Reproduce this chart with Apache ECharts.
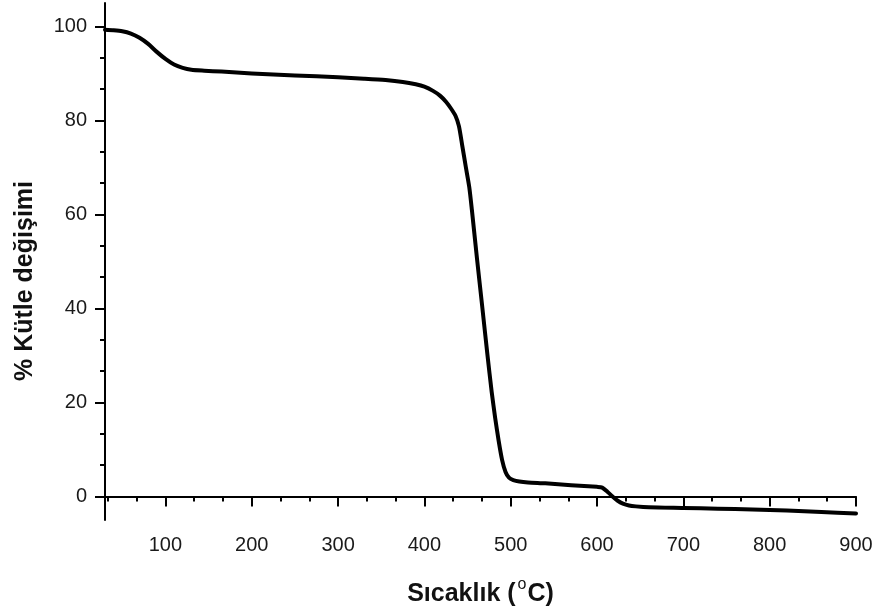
<!DOCTYPE html>
<html>
<head>
<meta charset="utf-8">
<script src="https://cdn.jsdelivr.net/npm/echarts@6/dist/echarts.min.js"></script>
<style>
html,body{margin:0;padding:0;background:#fff;}
#chart{width:879px;height:612px;}
</style>
</head>
<body>
<div id="chart"></div>
<script>
// Temperature (°C)
var temps = [30, 40, 50, 60, 70, 80, 90, 100, 110, 120, 130, 145, 165, 200, 250, 300, 330, 355, 375, 390, 400, 410, 418, 425, 431, 436, 440, 444, 448, 452, 455, 461, 467, 473, 478, 482, 486, 490, 494, 498, 503, 510, 520, 540, 570, 600, 606, 612, 618, 624, 630, 637, 645, 660, 700, 740, 780, 820, 860, 900];
// Mass change (%)
var mass = [99.3, 99.2, 99.0, 98.5, 97.6, 96.3, 94.6, 93.1, 91.9, 91.2, 90.8, 90.6, 90.4, 90.0, 89.6, 89.2, 88.9, 88.6, 88.2, 87.7, 87.2, 86.3, 85.3, 84.0, 82.5, 81.0, 78.8, 74.5, 70.1, 65.8, 61.0, 50.5, 40.4, 30.2, 22.2, 16.7, 11.9, 7.8, 5.2, 4.0, 3.5, 3.2, 3.0, 2.8, 2.4, 2.05, 1.9, 1.0, 0.0, -0.9, -1.5, -1.9, -2.1, -2.3, -2.45, -2.6, -2.75, -3.0, -3.3, -3.6];

var xTicks = [100, 200, 300, 400, 500, 600, 700, 800, 900];
var yTicks = [0, 20, 40, 60, 80, 100];
var yTitle = '% Kütle değişimi';

var xMinor = [];
[0, 100, 200, 300, 400, 500, 600, 700, 800].forEach(function (b) {
  xMinor.push(b + 100 / 3, b + 200 / 3);
});
var yMinor = [];
[0, 20, 40, 60, 80].forEach(function (b) {
  yMinor.push(b + 20 / 3, b + 40 / 3);
});

var seriesData = temps.map(function (t, i) { return [t, mass[i]]; });

var chart = echarts.init(document.getElementById('chart'), null, {renderer: 'canvas'});
var FONT = 'Liberation Sans, Arial, sans-serif';
var labelFont = {fontFamily: FONT, fontSize: 20, color: '#1a1a1a'};

chart.setOption({
  backgroundColor: '#fff',
  animation: false,
  grid: {left: 105, right: 23, top: 3, bottom: 90.5, containLabel: false},
  xAxis: [{
    type: 'value', min: 30, max: 900,
    axisLine: {show: true, lineStyle: {color: '#000', width: 2}},
    axisTick: {show: true, length: 10, customValues: xTicks, lineStyle: {color: '#000', width: 2}},
    axisLabel: Object.assign({margin: 15, customValues: xTicks}, labelFont),
    splitLine: {show: false},
    name: 'Sıcaklık ({sup|o}C)',
    nameLocation: 'middle',
    nameGap: 57,
    nameTextStyle: {
      fontFamily: FONT, fontSize: 25, fontWeight: 'bold', color: '#111',
      rich: {sup: {fontSize: 16, fontWeight: 'normal', verticalAlign: 'top', padding: [0, 1, 19, 2], fontFamily: FONT, color: '#111'}}
    }
  }, {
    type: 'value', min: 30, max: 900, position: 'bottom',
    axisLine: {show: false},
    axisTick: {show: true, length: 5, customValues: xMinor, lineStyle: {color: '#000', width: 2}},
    axisLabel: {show: false},
    splitLine: {show: false}
  }],
  yAxis: [{
    type: 'value', min: -5, max: 105,
    axisLine: {show: true, lineStyle: {color: '#000', width: 2}},
    axisTick: {show: true, length: 10, customValues: yTicks, lineStyle: {color: '#000', width: 2}},
    axisLabel: Object.assign({margin: 18, customValues: yTicks}, labelFont),
    splitLine: {show: false}
  }, {
    type: 'value', min: -5, max: 105, position: 'left',
    axisLine: {show: false},
    axisTick: {show: true, length: 5, customValues: yMinor, lineStyle: {color: '#000', width: 2}},
    axisLabel: {show: false},
    splitLine: {show: false}
  }],
  graphic: [{
    type: 'text',
    x: 25, y: 281,
    rotation: Math.PI / 2,
    style: {
      text: yTitle,
      fontFamily: FONT, fontSize: 25, fontWeight: 'bold', fill: '#111',
      align: 'center', verticalAlign: 'middle'
    }
  }],
  series: [{
    type: 'line',
    xAxisIndex: 0, yAxisIndex: 0,
    data: seriesData,
    showSymbol: false,
    smooth: 0.25,
    lineStyle: {color: '#000', width: 4, join: 'round', cap: 'round'},
    itemStyle: {color: '#000'}
  }]
});
</script>
</body>
</html>
